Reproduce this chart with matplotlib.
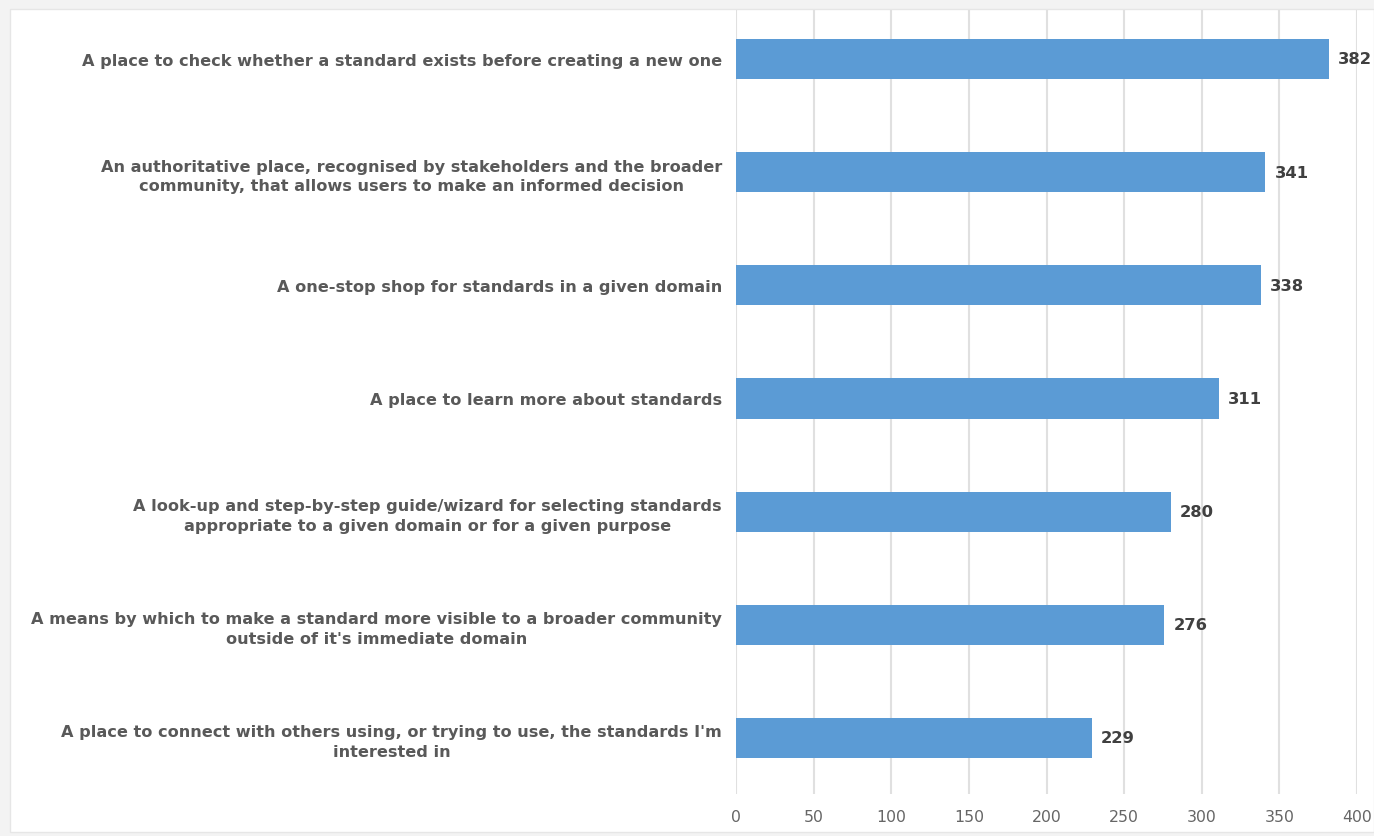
import matplotlib
matplotlib.use("Agg")
import matplotlib.pyplot as plt
from matplotlib.patches import Rectangle

categories = [
    "A place to check whether a standard exists before creating a new one",
    "An authoritative place, recognised by stakeholders and the broader\ncommunity, that allows users to make an informed decision",
    "A one-stop shop for standards in a given domain",
    "A place to learn more about standards",
    "A look-up and step-by-step guide/wizard for selecting standards\nappropriate to a given domain or for a given purpose",
    "A means by which to make a standard more visible to a broader community\noutside of it's immediate domain",
    "A place to connect with others using, or trying to use, the standards I'm\ninterested in",
]
values = [382, 341, 338, 311, 280, 276, 229]
xticks = [0, 50, 100, 150, 200, 250, 300, 350, 400]

W, H = 1374, 837
fig = plt.figure(figsize=(W / 100, H / 100), dpi=100)
fig.patch.set_facecolor("#f3f3f3")
fig.patches.append(Rectangle((10 / W, 4 / H), 1 - 10 / W, 1 - 14 / H,
                             transform=fig.transFigure, facecolor="white",
                             edgecolor="#e6e6e6", linewidth=1, zorder=-10))

ax = fig.add_axes([736 / W, 1 - 795 / H, (1357 - 736) / W, (795 - 11) / H])
ax.set_zorder(5)
ax.set_facecolor("none")
ypos = list(range(len(categories)))
bars = ax.barh(ypos, values, height=0.355, color="#5b9bd5", zorder=3)
ax.set_xlim(0, 400)
ax.set_ylim(6.495, -0.433)
ax.set_xticks(xticks)
ax.set_xticklabels([str(t) for t in xticks])
ax.set_yticks(ypos)
ax.set_yticklabels(categories, fontsize=11.6, fontweight="bold", color="#595959",
                   ha="right", multialignment="center", linespacing=1.4)
ax.tick_params(axis="y", length=0, pad=10)
ax.tick_params(axis="x", length=0, pad=11, labelsize=11.3, labelcolor="#666666")
ax.grid(axis="x", color="#e0e0e0", linewidth=1.5, zorder=0)
for s in ax.spines.values():
    s.set_visible(False)
for y, v in zip(ypos, values):
    ax.text(v + 6, y, str(v), va="center", ha="left", fontsize=11.8,
            fontweight="bold", color="#404040")

fig.savefig("out.png", dpi=100, facecolor=fig.get_facecolor())
